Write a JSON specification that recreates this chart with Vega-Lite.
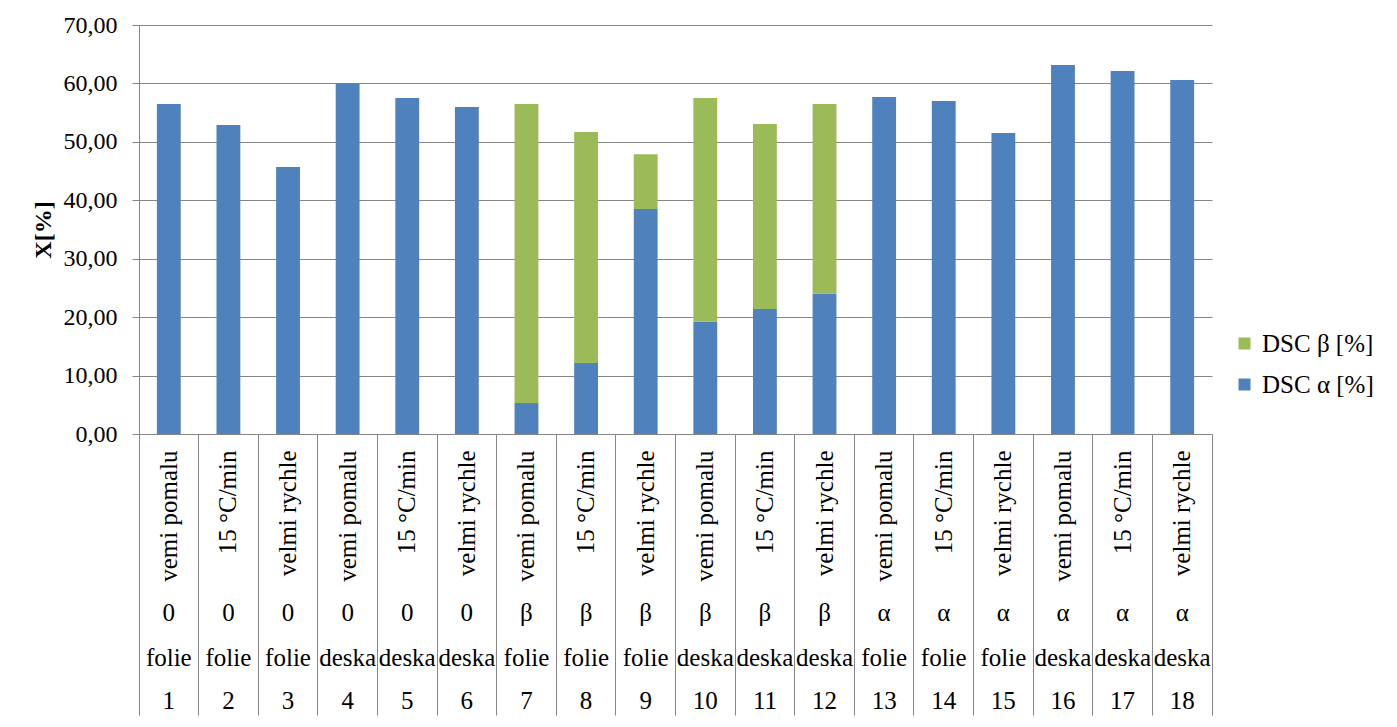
{
  "$schema": "https://vega.github.io/schema/vega-lite/v6.json",
  "width": 1073,
  "height": 409,
  "autosize": "none",
  "padding": {"left": 139, "top": 25, "right": 185, "bottom": 293},
  "background": "white",
  "config": {"view": {"stroke": null}, "font": "'Liberation Serif', 'Times New Roman', 'DejaVu Serif', serif"},
  "data": {"values": [
    {"label": "1|folie|0|vemi pomalu", "series": "DSC α [%]", "value": 56.48},
    {"label": "2|folie|0|15 °C/min", "series": "DSC α [%]", "value": 52.9},
    {"label": "3|folie|0|velmi rychle", "series": "DSC α [%]", "value": 45.7},
    {"label": "4|deska|0|vemi pomalu", "series": "DSC α [%]", "value": 60.0},
    {"label": "5|deska|0|15 °C/min", "series": "DSC α [%]", "value": 57.5},
    {"label": "6|deska|0|velmi rychle", "series": "DSC α [%]", "value": 55.97},
    {"label": "7|folie|β|vemi pomalu", "series": "DSC α [%]", "value": 5.3},
    {"label": "7|folie|β|vemi pomalu", "series": "DSC β [%]", "value": 51.2},
    {"label": "8|folie|β|15 °C/min", "series": "DSC α [%]", "value": 12.15},
    {"label": "8|folie|β|15 °C/min", "series": "DSC β [%]", "value": 39.55},
    {"label": "9|folie|β|velmi rychle", "series": "DSC α [%]", "value": 38.5},
    {"label": "9|folie|β|velmi rychle", "series": "DSC β [%]", "value": 9.4},
    {"label": "10|deska|β|vemi pomalu", "series": "DSC α [%]", "value": 19.2},
    {"label": "10|deska|β|vemi pomalu", "series": "DSC β [%]", "value": 38.3},
    {"label": "11|deska|β|15 °C/min", "series": "DSC α [%]", "value": 21.4},
    {"label": "11|deska|β|15 °C/min", "series": "DSC β [%]", "value": 31.66},
    {"label": "12|deska|β|velmi rychle", "series": "DSC α [%]", "value": 24.0},
    {"label": "12|deska|β|velmi rychle", "series": "DSC β [%]", "value": 32.5},
    {"label": "13|folie|α|vemi pomalu", "series": "DSC α [%]", "value": 57.68},
    {"label": "14|folie|α|15 °C/min", "series": "DSC α [%]", "value": 57.0},
    {"label": "15|folie|α|velmi rychle", "series": "DSC α [%]", "value": 51.5},
    {"label": "16|deska|α|vemi pomalu", "series": "DSC α [%]", "value": 63.15},
    {"label": "17|deska|α|15 °C/min", "series": "DSC α [%]", "value": 62.13},
    {"label": "18|deska|α|velmi rychle", "series": "DSC α [%]", "value": 60.59}
  ]},
  "resolve": {"axis": {"x": "independent"}},
  "layer": [
    {
      "mark": {"type": "bar", "width": {"band": 0.4}},
      "encoding": {
        "x": {"field": "label", "type": "nominal", "sort": null,
          "scale": {"paddingInner": 0, "paddingOuter": 0},
          "axis": {"orient": "bottom", "title": null, "labelAngle": -90, "labelAlign": "right", "labelBaseline": "middle",
            "labelExpr": "split(datum.value,'|')[3]", "ticks": false, "tickSize": 0, "domain": true,
            "domainColor": "#868686", "labelPadding": 16, "labelFontSize": 25, "labelColor": "black",
            "grid": false, "labelOverlap": false, "labelBound": false, "labelLimit": 300}},
        "y": {"field": "value", "type": "quantitative", "stack": "zero",
          "scale": {"domain": [0, 70], "nice": false},
          "axis": {"title": "X[%]", "values": [0, 10, 20, 30, 40, 50, 60, 70],
            "labelExpr": "replace(format(datum.value,'.2f'),'.',',')",
            "grid": true, "gridColor": "#868686", "domainColor": "#868686", "tickColor": "#868686",
            "tickSize": 7, "labelPadding": 15, "labelFontSize": 24, "labelColor": "black",
            "titleFontSize": 24, "titleFontWeight": "bold", "titleColor": "black", "titlePadding": 8}},
        "color": {"field": "series", "type": "nominal",
          "scale": {"domain": ["DSC β [%]", "DSC α [%]"], "range": ["#9BBB59", "#4F81BD"]},
          "legend": {"title": null, "orient": "none", "legendX": 1093, "legendY": 306, "symbolType": "square",
            "symbolSize": 144, "labelFontSize": 25, "labelColor": "black",
            "rowPadding": 15, "labelOffset": 5, "padding": 0, "symbolStrokeWidth": 0}},
        "order": {"field": "series", "sort": "ascending"}
      }
    },
    {
      "mark": {"type": "rule", "strokeOpacity": 0},
      "encoding": {
        "x": {"field": "label", "type": "nominal", "sort": null,
          "axis": {"orient": "bottom", "title": null, "labels": false, "domain": false, "ticks": true, "tickSize": 281,
            "tickColor": "#868686", "bandPosition": 0, "grid": false}}
      }
    },
    {
      "mark": {"type": "rule", "strokeOpacity": 0},
      "encoding": {
        "x": {"field": "label", "type": "nominal", "sort": null,
          "axis": {"orient": "bottom", "title": null, "labels": false, "domain": false, "ticks": true, "tickSize": 281,
            "tickColor": "#868686", "bandPosition": 1, "grid": false, "values": ["18|deska|α|velmi rychle"]}}
      }
    },
    {
      "mark": {"type": "rule", "strokeOpacity": 0},
      "encoding": {
        "x": {"field": "label", "type": "nominal", "sort": null,
          "axis": {"orient": "bottom", "title": null, "labelExpr": "split(datum.value,'|')[2]", "labelAngle": 0, "labelAlign": "center",
            "labelBaseline": "middle", "ticks": false, "tickSize": 0, "domain": false, "labelPadding": 178,
            "labelFontSize": 25, "labelColor": "black", "grid": false,
            "labelOverlap": false, "labelBound": false}}
      }
    },
    {
      "mark": {"type": "rule", "strokeOpacity": 0},
      "encoding": {
        "x": {"field": "label", "type": "nominal", "sort": null,
          "axis": {"orient": "bottom", "title": null, "labelExpr": "split(datum.value,'|')[1]", "labelAngle": 0, "labelAlign": "center",
            "labelBaseline": "middle", "ticks": false, "tickSize": 0, "domain": false, "labelPadding": 223,
            "labelFontSize": 25, "labelColor": "black", "grid": false,
            "labelOverlap": false, "labelBound": false}}
      }
    },
    {
      "mark": {"type": "rule", "strokeOpacity": 0},
      "encoding": {
        "x": {"field": "label", "type": "nominal", "sort": null,
          "axis": {"orient": "bottom", "title": null, "labelExpr": "split(datum.value,'|')[0]", "labelAngle": 0, "labelAlign": "center",
            "labelBaseline": "middle", "ticks": false, "tickSize": 0, "domain": false, "labelPadding": 266,
            "labelFontSize": 25, "labelColor": "black", "grid": false,
            "labelOverlap": false, "labelBound": false}}
      }
    }
  ]
}
